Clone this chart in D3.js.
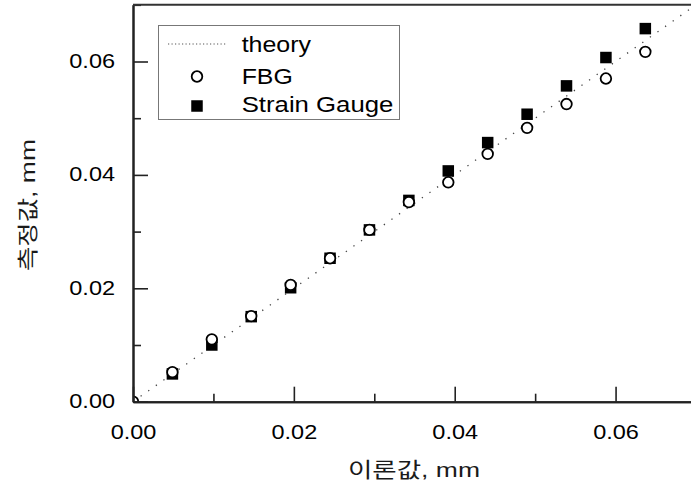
<!DOCTYPE html>
<html><head><meta charset="utf-8">
<script src="https://cdn.jsdelivr.net/npm/d3@7"></script>
<style>
body{margin:0;background:#fff;}
text{font-family:"Liberation Sans","Noto Sans CJK KR",Arial,sans-serif;}
</style></head>
<body><svg id="c" width="691" height="490"></svg>
<script>
const xTicks = [0, 0.02, 0.04, 0.06];
const yTicks = [0, 0.02, 0.04, 0.06];
const minorTicks = [0.01, 0.03, 0.05, 0.07];
const theoryX = [0, 0.07];
const fbgX = [0, 0.0049, 0.0098, 0.0147, 0.0196, 0.0245, 0.0294, 0.0343, 0.0392, 0.0441, 0.0490, 0.0539, 0.0588, 0.0637];
const fbgY = [0, 0.0052, 0.0110, 0.0151, 0.0206, 0.0253, 0.0303, 0.0352, 0.0387, 0.0437, 0.0483, 0.0525, 0.0570, 0.0617];
const sgX = [0.0049, 0.0098, 0.0147, 0.0196, 0.0245, 0.0294, 0.0343, 0.0392, 0.0441, 0.0490, 0.0539, 0.0588, 0.0637];
const sgY = [0.0049, 0.0100, 0.0150, 0.0201, 0.0253, 0.0303, 0.0355, 0.0407, 0.0457, 0.0507, 0.0557, 0.0607, 0.0658];
const legendLabels = ["theory", "FBG", "Strain Gauge"];
const xTitle = "이론값, mm";
const yTitle = "측정값, mm";

const svg = d3.select("#c");
const L = 133, R = 696, T = 4.8, B = 401.7;
const x = d3.scaleLinear().domain([0, 0.07]).range([L, R]);
const y = d3.scaleLinear().domain([0, 0.07]).range([B, T]);

svg.append("defs").append("clipPath").attr("id", "clip")
  .append("rect").attr("x", L).attr("y", T).attr("width", R - L).attr("height", B - T);

const plot = svg.append("g").attr("clip-path", "url(#clip)");
plot.append("path")
  .datum(theoryX)
  .attr("d", d3.line().x(d => x(d)).y(d => y(d)))
  .attr("fill", "none").attr("stroke", "#444").attr("stroke-width", 1.3)
  .attr("stroke-dasharray", "1.3,8");
const sq = 11.5;
plot.selectAll("rect.sg").data(sgX.map((v, i) => [v, sgY[i]])).enter().append("rect")
  .attr("class", "sg")
  .attr("x", d => x(d[0]) - sq / 2).attr("y", d => y(d[1]) - sq / 2)
  .attr("width", sq).attr("height", sq).attr("fill", "#000");
plot.selectAll("circle.fbg").data(fbgX.map((v, i) => [v, fbgY[i]])).enter().append("circle")
  .attr("class", "fbg")
  .attr("cx", d => x(d[0])).attr("cy", d => y(d[1])).attr("r", 5.3)
  .attr("fill", "#fff").attr("stroke", "#000").attr("stroke-width", 1.8);

const fs = 20;
const gx = svg.append("g").attr("transform", `translate(0,${B})`)
  .call(d3.axisBottom(x).tickValues(xTicks).tickFormat(d3.format(".2f")).tickSizeInner(-15).tickSizeOuter(0).tickPadding(23));
const gxm = svg.append("g").attr("transform", `translate(0,${B})`)
  .call(d3.axisBottom(x).tickValues(minorTicks).tickFormat("").tickSizeInner(-8).tickSizeOuter(0));
const gy = svg.append("g").attr("transform", `translate(${L},0)`)
  .call(d3.axisLeft(y).tickValues(yTicks).tickFormat(d3.format(".2f")).tickSizeInner(-15).tickSizeOuter(0).tickPadding(18));
const gym = svg.append("g").attr("transform", `translate(${L},0)`)
  .call(d3.axisLeft(y).tickValues(minorTicks).tickFormat("").tickSizeInner(-8).tickSizeOuter(0));
[gx, gxm, gy, gym].forEach(g => {
  g.selectAll(".domain").attr("stroke", "#222").attr("stroke-width", 2);
  g.selectAll(".tick line").attr("stroke", "#222").attr("stroke-width", 1.6);
  g.selectAll("text").attr("font-size", fs).attr("fill", "#000")
    .attr("textLength", 45.7).attr("lengthAdjust", "spacingAndGlyphs")
    .style("font-family", '"Liberation Sans", Arial, sans-serif');
});
gy.selectAll("text").attr("dy", "0.3em");
svg.append("line").attr("x1", L).attr("x2", R).attr("y1", T).attr("y2", T).attr("stroke", "#333").attr("stroke-width", 2);
svg.append("line").attr("x1", R).attr("x2", R).attr("y1", T).attr("y2", B).attr("stroke", "#333").attr("stroke-width", 2);

svg.append("text").attr("x", 414).attr("y", 477).attr("text-anchor", "middle").attr("font-size", 21).attr("fill", "#1a1a1a")
  .attr("textLength", 132).attr("lengthAdjust", "spacingAndGlyphs").text(xTitle);
svg.append("text").attr("transform", "translate(35,205) rotate(-90)").attr("text-anchor", "middle").attr("font-size", 21).attr("fill", "#1a1a1a")
  .attr("textLength", 132).attr("lengthAdjust", "spacingAndGlyphs").text(yTitle);

const lg = svg.append("g");
lg.append("rect").attr("x", 158.5).attr("y", 25.5).attr("width", 241).attr("height", 94)
  .attr("fill", "#fff").attr("stroke", "#777").attr("stroke-width", 1);
const marks = [44, 76.5, 106];
const base = [52.3, 84.3, 112.3];
const widths = [69.3, 51, 151.7];
lg.append("line").attr("x1", 168).attr("x2", 226).attr("y1", marks[0]).attr("y2", marks[0])
  .attr("stroke", "#555").attr("stroke-width", 1.2).attr("stroke-dasharray", "1.2,2.3");
lg.append("circle").attr("cx", 197).attr("cy", marks[1]).attr("r", 5.3).attr("fill", "#fff").attr("stroke", "#000").attr("stroke-width", 1.8);
lg.append("rect").attr("x", 197 - sq / 2).attr("y", marks[2] - sq / 2).attr("width", sq).attr("height", sq).attr("fill", "#000");
lg.selectAll("text.lt").data(legendLabels).enter().append("text").attr("class", "lt")
  .attr("x", 241.7).attr("y", (d, i) => base[i]).attr("font-size", 22).attr("fill", "#000")
  .attr("textLength", (d, i) => widths[i]).attr("lengthAdjust", "spacingAndGlyphs").text(d => d);
</script></body></html>
